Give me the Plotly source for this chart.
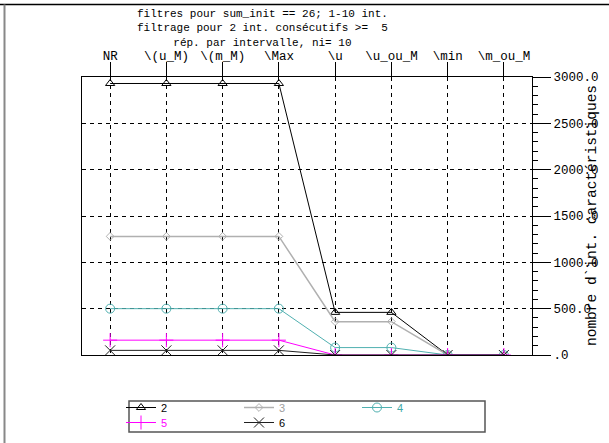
import plotly.graph_objects as go

categories = ["NR", r"\(u_M)", r"\(m_M)", r"\Max", r"\u", r"\u_ou_M", r"\min", r"\m_ou_M"]
s2 = [2930, 2930, 2930, 2930, 460, 460, 0, 0]
s3 = [1280, 1280, 1280, 1280, 360, 360, 0, 0]
s4 = [500, 500, 500, 500, 80, 80, 0, 0]
s5 = [160, 160, 160, 160, 0, 0, 0, 0]
s6 = [50, 50, 50, 50, 0, 0, 0, 0]
y_tickvals = [0, 500, 1000, 1500, 2000, 2500, 3000]
y_ticktext = [".0", "500.0", "1000.0", "1500.0", "2000.0", "2500.0", "3000.0"]
title_lines = ["filtres pour sum_init == 26; 1-10 int.",
               "filtrage pour 2 int. consécutifs >=  5",
               "rép. par intervalle, ni= 10"]
y_title = "nombre d`int. caractéristiques"

MONO = "Liberation Mono, DejaVu Sans Mono, monospace"
W, H = 609, 443
L, R, T, B = 82, 532, 77, 355
PW, PH = R - L, B - T


def px(x):
    return (x - L) / PW


def py(y):
    return (B - y) / PH


series = [
    ("2", s2, "#000000", "#000000", "triangle-up-open", 8, 1, "legend"),
    ("3", s3, "#b0b0b0", "#a0a0a0", "diamond-open", 6, 1.5, "legend"),
    ("4", s4, "#50b0b0", "#40a8a8", "circle-open", 9, 1, "legend"),
    ("5", s5, "#ff00ff", "#ff00ff", "cross-thin-open", 10, 1, "legend2"),
    ("6", s6, "#202020", "#000000", "x-thin-open", 10, 1, "legend2"),
]

fig = go.Figure()
for name, vals, lc, tc, sym, size, lw, leg in series:
    fig.add_trace(go.Scatter(
        x=categories, y=vals, mode="lines+markers",
        name=f"<span style='color:{tc}'>{name}</span>",
        line=dict(color=lc, width=lw),
        marker=dict(symbol=sym, size=size, color=lc, line=dict(color=lc, width=1)),
        legend=leg,
    ))

leg_font = dict(family="Liberation Sans, Arial, sans-serif", size=11)
fig.update_layout(
    width=W, height=H,
    margin=dict(l=L, r=W - R, t=T, b=H - B, autoexpand=False),
    paper_bgcolor="white", plot_bgcolor="white",
    font=dict(family=MONO, size=12, color="black"),
    xaxis=dict(type="category", categoryorder="array", categoryarray=categories,
               range=[-0.5, 7.5], side="top", showline=True, mirror=True,
               linecolor="black", linewidth=1, ticks="outside", ticklen=14,
               tickcolor="black", tickwidth=1, automargin=False,
               ticklabelstandoff=-3,
               showgrid=True, gridcolor="black", griddash="4px,4px", gridwidth=1,
               tickfont=dict(family=MONO, size=12.5, color="black"), zeroline=False),
    yaxis=dict(range=[0, 3000], side="right", showline=True, mirror=True,
               linecolor="black", linewidth=1, ticks="outside", ticklen=18,
               tickcolor="black", tickvals=y_tickvals, ticktext=y_ticktext,
               automargin=False,
               minor=dict(dtick=100, ticks="outside", ticklen=5, tickcolor="black", showgrid=False),
               showgrid=True, gridcolor="black", griddash="4px,4px", gridwidth=1,
               tickfont=dict(family=MONO, size=12.5, color="black"), zeroline=False),
    legend=dict(orientation="h", x=px(121), y=py(393), xanchor="left", yanchor="top",
                entrywidth=73, entrywidthmode="pixels", bgcolor="rgba(0,0,0,0)",
                font=leg_font, tracegroupgap=0),
    legend2=dict(orientation="h", x=px(121), y=py(408), xanchor="left", yanchor="top",
                 entrywidth=73, entrywidthmode="pixels", bgcolor="rgba(0,0,0,0)",
                 font=leg_font, tracegroupgap=0),
    showlegend=True,
)

fig.add_annotation(text="<br>".join(title_lines), xref="paper", yref="paper",
                   x=px(262.5), y=py(6), xanchor="center", yanchor="top",
                   showarrow=False, align="center",
                   font=dict(family=MONO, size=11, color="black"))
fig.add_annotation(text=y_title, xref="paper", yref="paper", x=px(592), y=0.5,
                   textangle=-90, showarrow=False, xanchor="center", yanchor="middle",
                   font=dict(family=MONO, size=14.5, color="black"))

# legend box and outer frame lines
fig.add_shape(type="rect", xref="paper", yref="paper", x0=px(129), x1=px(485),
              y0=py(432), y1=py(401), line=dict(color="#555555", width=1.5))
fig.add_shape(type="line", xref="paper", yref="paper", x0=px(0), x1=px(W),
              y0=py(4.5), y1=py(4.5), line=dict(color="black", width=1.5))
fig.add_shape(type="line", xref="paper", yref="paper", x0=px(4.5), x1=px(4.5),
              y0=py(4.5), y1=py(H), line=dict(color="#888888", width=2))

fig.write_html("out.html", post_script="document.body.style.margin='0px';",
               config={"displayModeBar": False})
